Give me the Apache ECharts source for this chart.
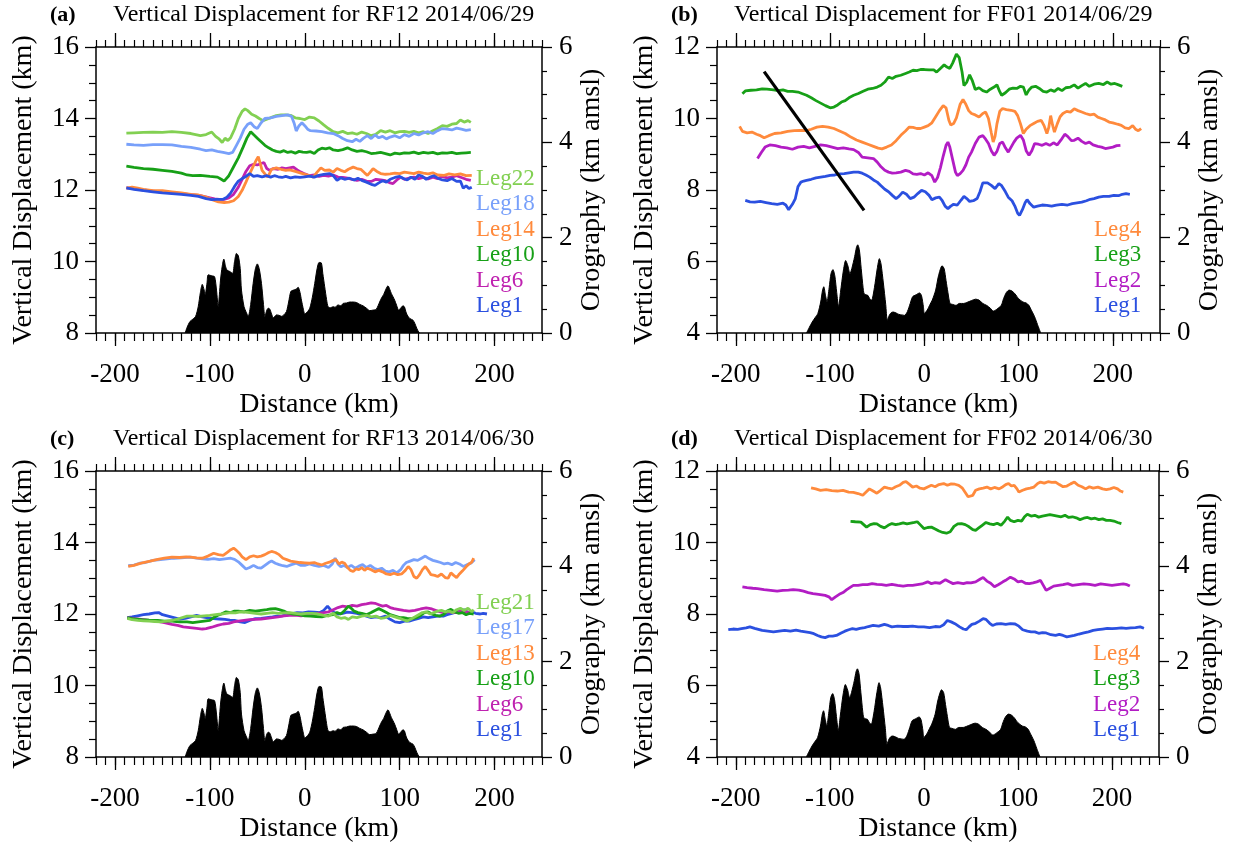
<!DOCTYPE html>
<html>
<head>
<meta charset="utf-8">
<script src="https://cdn.jsdelivr.net/npm/echarts@6/dist/echarts.min.js"></script>
<style>html,body{margin:0;padding:0;background:#fff;}#chart{width:1235px;height:847px;}</style>
</head>
<body>
<div id="chart"></div>
<script>
// ---------------- DATA ----------------
const xTickValues = [-200, -100, 0, 100, 200];
const panelTags = ['(a)', '(b)', '(c)', '(d)'];
const panelTitles = [
  'Vertical Displacement for RF12 2014/06/29',
  'Vertical Displacement for FF01 2014/06/29',
  'Vertical Displacement for RF13 2014/06/30',
  'Vertical Displacement for FF02 2014/06/30'
];
const leftAxisRanges = [[8, 16], [4, 12], [8, 16], [4, 12]];
const legendA = ['Leg22', 'Leg18', 'Leg14', 'Leg10', 'Leg6', 'Leg1'];
const legendB = ['Leg4', 'Leg3', 'Leg2', 'Leg1'];
const legendC = ['Leg21', 'Leg17', 'Leg13', 'Leg10', 'Leg6', 'Leg1'];
const legendD = ['Leg4', 'Leg3', 'Leg2', 'Leg1'];

// Orography (km amsl) vs distance (km)
const oroAC = [[-126,0],[-124,0.12],[-121,0.24],[-118,0.29],[-115,0.35],[-112.3,0.55],[-110,0.85],[-108,1.02],[-106,0.90],[-105,0.80],[-103,1.05],[-101.8,1.22],[-98,1.20],[-95,1.18],[-93,0.90],[-91.2,0.55],[-90,0.80],[-88.8,1.11],[-87,1.40],[-85.3,1.55],[-83.5,1.40],[-82,1.32],[-79,1.29],[-76,1.25],[-74,1.50],[-72,1.67],[-70,1.62],[-68,1.35],[-66.7,0.90],[-64,0.55],[-62,0.45],[-59.6,0.35],[-57,0.60],[-54.4,1.04],[-52,1.35],[-50,1.45],[-48,1.35],[-45.6,1.04],[-43.5,0.60],[-42,0.34],[-40,0.48],[-38.5,0.52],[-36.8,0.50],[-35,0.40],[-33.3,0.32],[-31,0.36],[-29.8,0.38],[-27,0.37],[-24.6,0.35],[-22,0.38],[-19.3,0.45],[-17,0.65],[-14.7,0.87],[-12,0.90],[-9,0.92],[-7,0.96],[-5,0.85],[-3.5,0.69],[-1.5,0.50],[0,0.40],[3,0.45],[5.3,0.52],[8,0.75],[10.5,1.04],[13,1.35],[15.1,1.48],[17.5,1.47],[19,1.25],[21,0.97],[23,0.70],[24.6,0.55],[27,0.53],[29.8,0.55],[32,0.54],[35,0.59],[38,0.57],[40.4,0.62],[44,0.63],[47.4,0.65],[51,0.65],[54.4,0.64],[58,0.60],[61.4,0.57],[65,0.52],[68.4,0.47],[72,0.48],[75.4,0.50],[78.9,0.65],[81,0.74],[83.2,0.81],[85.5,0.92],[87.7,0.99],[89.5,0.92],[91.2,0.83],[93,0.76],[94.7,0.69],[96.8,0.58],[98.9,0.48],[101,0.52],[103.5,0.57],[105,0.55],[107,0.42],[108.8,0.35],[111,0.30],[114,0.27],[116,0.20],[118,0.10],[120,0.02],[121,0]];
const oroBD = [[-125,0],[-122,0.12],[-119,0.23],[-116,0.32],[-113,0.41],[-110,0.65],[-108,0.90],[-106.7,0.97],[-105,0.80],[-103.3,0.65],[-101,0.95],[-99,1.25],[-97,1.33],[-95,1.20],[-93,0.85],[-91,0.55],[-89,0.85],[-86,1.30],[-83.5,1.52],[-81,1.40],[-79,1.24],[-77,1.35],[-74,1.60],[-72,1.80],[-70.7,1.85],[-69,1.75],[-67,1.35],[-65,0.95],[-64,0.83],[-62,0.80],[-60,0.79],[-58,0.72],[-56,0.69],[-53,0.95],[-50,1.35],[-47.7,1.56],[-46,1.45],[-43.5,1.05],[-41,0.60],[-39.3,0.27],[-37,0.38],[-35,0.43],[-33,0.44],[-30,0.42],[-27,0.39],[-24,0.38],[-21,0.37],[-18,0.45],[-15,0.62],[-12.5,0.76],[-9,0.80],[-5,0.84],[-3,0.78],[-1,0.55],[0,0.41],[3,0.48],[6,0.60],[8.4,0.69],[12,0.90],[15,1.20],[18.8,1.41],[21,1.35],[23,1.10],[25,0.85],[27.2,0.62],[30,0.60],[33.5,0.58],[37,0.62],[41.8,0.62],[45,0.64],[50,0.68],[54.4,0.71],[58,0.69],[62,0.62],[66,0.58],[70,0.52],[73.2,0.46],[77,0.50],[81.6,0.58],[84,0.72],[87,0.85],[90,0.90],[93,0.88],[96.2,0.82],[100,0.72],[104.6,0.65],[108,0.63],[110.9,0.58],[113,0.50],[117,0.34],[120,0.18],[123.4,0]];

// Panel (a) RF12
const a_leg22 = [[-188,13.59],[-180,13.60],[-170,13.61],[-160,13.62],[-150,13.61],[-140,13.63],[-130,13.61],[-120,13.58],[-110,13.52],[-104,13.55],[-98,13.62],[-94,13.50],[-90,13.42],[-87,13.33],[-84,13.45],[-81,13.38],[-78,13.47],[-74,13.70],[-70,14.00],[-66,14.20],[-63,14.27],[-60,14.22],[-56,14.12],[-52,14.07],[-48,14.00],[-44,13.94],[-40,13.98],[-35,14.03],[-30,14.08],[-25,14.10],[-20,14.10],[-15,14.09],[-10,14.02],[-5,14.00],[0,13.97],[5,14.04],[10,14.02],[15,13.93],[20,13.82],[25,13.72],[30,13.63],[35,13.60],[40,13.64],[45,13.58],[50,13.60],[55,13.56],[60,13.62],[65,13.58],[70,13.52],[75,13.56],[80,13.66],[85,13.62],[90,13.66],[95,13.60],[100,13.63],[105,13.64],[110,13.61],[115,13.64],[120,13.60],[125,13.63],[130,13.58],[135,13.66],[140,13.72],[145,13.80],[150,13.78],[155,13.84],[160,13.86],[164,13.96],[168,13.90],[172,13.94],[175,13.89]];
const a_leg18 = [[-188,13.28],[-180,13.26],[-170,13.25],[-160,13.27],[-150,13.27],[-140,13.26],[-130,13.22],[-120,13.19],[-110,13.14],[-104,13.10],[-98,13.12],[-92,13.08],[-86,13.05],[-80,13.02],[-76,13.05],[-72,13.25],[-68,13.45],[-64,13.70],[-60,13.84],[-57,13.88],[-53,13.76],[-50,13.72],[-46,13.88],[-42,14.00],[-36,14.02],[-30,14.06],[-24,14.08],[-18,14.10],[-14,14.06],[-11,13.85],[-9,13.65],[-6,13.80],[-3,13.88],[0,13.80],[3,13.70],[6,13.66],[12,13.65],[18,13.63],[24,13.60],[30,13.58],[35,13.52],[40,13.44],[45,13.38],[50,13.35],[54,13.42],[58,13.36],[62,13.45],[66,13.52],[70,13.44],[74,13.54],[78,13.46],[82,13.50],[86,13.43],[90,13.48],[95,13.52],[100,13.46],[105,13.55],[110,13.50],[115,13.58],[120,13.54],[125,13.60],[130,13.63],[135,13.58],[140,13.66],[145,13.72],[150,13.70],[155,13.68],[160,13.73],[165,13.70],[170,13.67],[175,13.69]];
const a_leg14 = [[-188,12.05],[-182,12.08],[-176,12.05],[-170,12.02],[-160,11.98],[-150,11.98],[-140,11.95],[-130,11.92],[-120,11.88],[-112,11.86],[-104,11.80],[-97,11.72],[-91,11.67],[-85,11.65],[-80,11.66],[-75,11.70],[-70,11.82],[-66,11.99],[-62,12.22],[-58,12.46],[-54,12.68],[-51,12.84],[-49,12.93],[-47,12.75],[-45,12.55],[-42,12.45],[-39,12.36],[-35,12.58],[-30,12.62],[-25,12.58],[-20,12.55],[-16,12.56],[-10,12.52],[-5,12.48],[0,12.44],[5,12.40],[9,12.36],[13,12.50],[17,12.62],[21,12.55],[26,12.56],[30,12.50],[34,12.60],[38,12.55],[42,12.51],[46,12.58],[51,12.64],[55,12.60],[59,12.58],[63,12.48],[66,12.41],[69,12.50],[72,12.60],[76,12.52],[80,12.46],[85,12.44],[90,12.45],[95,12.47],[100,12.46],[105,12.50],[110,12.48],[115,12.46],[120,12.50],[125,12.47],[130,12.45],[135,12.48],[140,12.42],[147,12.41],[152,12.45],[158,12.42],[164,12.45],[170,12.40],[176,12.41]];
const a_leg10 = [[-188,12.67],[-180,12.63],[-170,12.60],[-160,12.58],[-150,12.55],[-140,12.52],[-130,12.47],[-124,12.42],[-118,12.40],[-110,12.41],[-100,12.38],[-92,12.36],[-88,12.30],[-85,12.25],[-80,12.40],[-75,12.65],[-70,12.90],[-65,13.20],[-61,13.45],[-57,13.63],[-54,13.55],[-50,13.45],[-46,13.35],[-42,13.25],[-38,13.18],[-34,13.12],[-30,13.08],[-26,13.06],[-22,13.10],[-18,13.05],[-14,13.07],[-10,13.03],[-6,13.08],[-2,13.06],[2,13.05],[6,13.07],[10,13.02],[14,13.12],[18,13.17],[22,13.15],[26,13.18],[30,13.12],[35,13.10],[40,13.13],[45,13.18],[50,13.12],[55,13.08],[60,13.10],[65,13.07],[70,13.02],[75,13.03],[80,13.05],[85,13.02],[90,12.98],[95,13.03],[100,13.01],[105,13.04],[110,13.03],[115,13.06],[120,13.02],[125,13.05],[130,13.03],[135,13.05],[140,13.01],[145,13.04],[150,13.03],[155,13.05],[160,13.02],[165,13.03],[170,13.04],[175,13.05]];
const a_leg6 = [[-188,12.06],[-180,12.04],[-170,12.00],[-160,11.97],[-150,11.94],[-140,11.92],[-130,11.90],[-120,11.87],[-110,11.84],[-100,11.78],[-95,11.75],[-90,11.74],[-85,11.74],[-80,11.78],[-75,11.88],[-70,12.08],[-66,12.30],[-62,12.52],[-58,12.68],[-54,12.72],[-50,12.70],[-46,12.74],[-43,12.77],[-40,12.60],[-37,12.55],[-33,12.60],[-28,12.58],[-24,12.62],[-20,12.60],[-16,12.62],[-12,12.64],[-8,12.56],[-4,12.50],[0,12.45],[5,12.40],[10,12.42],[15,12.38],[20,12.41],[25,12.39],[30,12.42],[35,12.36],[40,12.35],[45,12.33],[50,12.30],[55,12.27],[60,12.30],[65,12.25],[70,12.24],[75,12.30],[80,12.28],[85,12.26],[90,12.20],[93,12.18],[97,12.28],[101,12.36],[105,12.30],[110,12.33],[115,12.36],[120,12.32],[125,12.35],[130,12.31],[135,12.36],[140,12.32],[145,12.38],[150,12.34],[155,12.36],[160,12.40],[165,12.35],[170,12.30],[175,12.27]];
const a_leg1 = [[-188,12.06],[-180,12.02],[-170,11.98],[-160,11.95],[-150,11.92],[-140,11.90],[-130,11.88],[-120,11.85],[-112,11.82],[-104,11.76],[-98,11.73],[-92,11.74],[-86,11.74],[-82,11.80],[-78,11.92],[-74,12.10],[-70,12.25],[-66,12.32],[-62,12.38],[-58,12.46],[-54,12.38],[-50,12.40],[-45,12.37],[-40,12.40],[-36,12.36],[-32,12.40],[-28,12.37],[-24,12.35],[-20,12.38],[-15,12.34],[-10,12.37],[-5,12.35],[0,12.37],[5,12.39],[10,12.36],[15,12.41],[20,12.44],[26,12.46],[30,12.40],[34,12.27],[38,12.34],[42,12.30],[47,12.33],[52,12.28],[56,12.33],[60,12.27],[65,12.22],[70,12.16],[74,12.13],[78,12.20],[82,12.26],[86,12.22],[90,12.30],[95,12.35],[100,12.38],[104,12.32],[108,12.28],[112,12.36],[116,12.30],[120,12.42],[124,12.38],[128,12.30],[132,12.36],[136,12.40],[140,12.33],[145,12.28],[150,12.26],[155,12.32],[160,12.24],[164,12.25],[167,12.05],[170,12.12],[173,12.04],[176,12.08]];

// Panel (b) FF01
const b_leg4 = [[-196,9.78],[-193,9.64],[-188,9.60],[-183,9.62],[-178,9.56],[-174,9.52],[-170,9.46],[-165,9.52],[-159,9.58],[-152,9.60],[-145,9.64],[-138,9.66],[-132,9.67],[-125,9.66],[-120,9.70],[-114,9.76],[-108,9.78],[-102,9.76],[-96,9.72],[-90,9.65],[-84,9.58],[-78,9.48],[-72,9.40],[-66,9.34],[-60,9.28],[-54,9.22],[-49,9.17],[-45,9.15],[-40,9.20],[-35,9.26],[-30,9.38],[-25,9.53],[-20,9.65],[-16,9.76],[-12,9.75],[-8,9.72],[-4,9.72],[0,9.76],[4,9.80],[8,9.88],[12,10.05],[16,10.22],[20,10.36],[23,10.30],[26,9.95],[28,9.82],[31,9.86],[34,10.02],[38,10.40],[41,10.53],[44,10.40],[47,10.22],[50,10.14],[54,10.10],[58,10.04],[62,10.14],[65,10.18],[68,10.00],[71,9.60],[73,9.34],[75,9.50],[77,9.85],[80,10.20],[83,10.28],[87,10.25],[92,10.23],[96,10.20],[99,10.08],[102,9.85],[105,9.58],[108,9.70],[112,9.80],[116,9.86],[120,9.92],[124,9.95],[127,9.80],[130,9.58],[132,9.75],[134,10.08],[136,9.82],[138,9.62],[141,9.85],[144,10.05],[147,10.14],[151,10.20],[155,10.18],[159,10.27],[163,10.22],[167,10.18],[171,10.14],[176,10.10],[180,10.12],[184,10.04],[188,10.00],[192,9.96],[196,9.90],[200,9.88],[205,9.84],[209,9.81],[213,9.74],[217,9.72],[221,9.80],[224,9.70],[227,9.66],[230,9.72]];
const b_leg3 = [[-193,10.69],[-190,10.77],[-184,10.79],[-178,10.80],[-172,10.83],[-167,10.82],[-160,10.80],[-155,10.78],[-150,10.80],[-145,10.76],[-140,10.76],[-134,10.74],[-130,10.70],[-125,10.65],[-120,10.58],[-115,10.50],[-110,10.43],[-105,10.36],[-100,10.30],[-96,10.32],[-92,10.38],[-88,10.46],[-84,10.50],[-80,10.58],[-75,10.65],[-70,10.70],[-65,10.76],[-60,10.82],[-55,10.84],[-50,10.88],[-46,10.93],[-42,11.02],[-38,11.16],[-34,11.12],[-30,11.18],[-25,11.21],[-20,11.26],[-16,11.30],[-12,11.35],[-8,11.34],[-4,11.37],[0,11.37],[5,11.36],[10,11.36],[13,11.30],[17,11.40],[21,11.50],[24,11.44],[27,11.40],[30,11.55],[34,11.80],[37,11.70],[40,11.30],[42,10.92],[45,11.02],[48,11.22],[51,11.05],[54,10.81],[58,10.86],[62,10.78],[66,10.74],[70,10.82],[74,10.88],[77,10.94],[80,10.75],[82,10.65],[86,10.72],[90,10.82],[94,10.85],[98,10.84],[102,10.90],[105,10.88],[108,10.66],[111,10.80],[114,10.88],[118,10.90],[122,10.84],[126,10.76],[130,10.74],[134,10.80],[138,10.76],[142,10.84],[146,10.78],[150,10.86],[155,10.88],[159,10.94],[163,10.85],[167,10.92],[171,10.98],[175,10.90],[180,10.96],[185,10.98],[190,10.95],[194,11.02],[198,10.96],[202,10.98],[206,10.94],[210,10.90]];
const b_leg2 = [[-177,8.88],[-173,9.05],[-169,9.20],[-164,9.26],[-158,9.24],[-152,9.20],[-146,9.18],[-140,9.14],[-134,9.20],[-128,9.22],[-122,9.18],[-116,9.22],[-110,9.26],[-104,9.24],[-98,9.20],[-92,9.16],[-86,9.18],[-80,9.15],[-75,9.13],[-70,9.05],[-66,8.92],[-60,8.90],[-54,8.88],[-50,8.78],[-46,8.65],[-42,8.55],[-38,8.50],[-34,8.47],[-30,8.48],[-25,8.50],[-20,8.55],[-16,8.52],[-12,8.45],[-8,8.44],[-4,8.46],[0,8.42],[4,8.48],[8,8.40],[11,8.22],[14,8.35],[17,8.62],[20,8.95],[23,9.25],[25,9.34],[27,9.20],[30,8.85],[33,8.50],[35,8.40],[38,8.46],[41,8.55],[44,8.70],[47,8.92],[50,9.06],[54,9.30],[58,9.48],[62,9.52],[65,9.42],[68,9.30],[71,9.10],[74,8.97],[77,9.08],[80,9.30],[83,9.34],[86,9.18],[89,9.06],[92,9.20],[95,9.34],[98,9.45],[102,9.53],[105,9.40],[108,9.10],[111,8.97],[114,9.10],[117,9.30],[121,9.28],[125,9.25],[129,9.30],[133,9.25],[137,9.32],[141,9.26],[145,9.40],[149,9.56],[152,9.50],[156,9.38],[159,9.39],[163,9.45],[167,9.36],[171,9.30],[175,9.34],[179,9.26],[184,9.22],[188,9.20],[192,9.16],[196,9.18],[200,9.20],[204,9.24],[208,9.25]];
const b_leg1 = [[-190,7.71],[-185,7.67],[-180,7.66],[-174,7.68],[-168,7.65],[-162,7.62],[-156,7.60],[-150,7.63],[-147,7.58],[-144,7.45],[-142,7.43],[-140,7.60],[-137,7.75],[-134,8.10],[-131,8.22],[-128,8.25],[-125,8.27],[-120,8.30],[-115,8.34],[-110,8.36],[-105,8.38],[-100,8.41],[-95,8.42],[-90,8.45],[-85,8.46],[-80,8.48],[-75,8.50],[-70,8.50],[-66,8.47],[-62,8.42],[-58,8.36],[-54,8.28],[-50,8.22],[-46,8.12],[-42,8.02],[-38,7.95],[-34,7.85],[-30,7.76],[-27,7.82],[-23,7.94],[-19,7.88],[-15,7.76],[-11,7.80],[-7,7.90],[-3,7.99],[1,7.95],[5,7.85],[8,7.73],[12,7.78],[16,7.80],[19,7.70],[22,7.55],[25,7.48],[28,7.55],[31,7.60],[35,7.58],[39,7.72],[42,7.82],[45,7.76],[48,7.68],[52,7.70],[56,7.76],[59,7.95],[62,8.20],[64,8.25],[67,8.20],[71,8.13],[75,8.04],[79,8.18],[82,8.12],[86,7.95],[89,7.80],[93,7.70],[96,7.55],[99,7.35],[101,7.29],[104,7.45],[107,7.65],[109,7.73],[112,7.62],[116,7.52],[120,7.55],[125,7.58],[130,7.57],[135,7.55],[140,7.58],[146,7.60],[152,7.58],[157,7.62],[162,7.64],[167,7.66],[172,7.70],[176,7.74],[180,7.76],[185,7.80],[190,7.82],[196,7.82],[201,7.85],[206,7.84],[210,7.88],[214,7.90],[218,7.88]];
const b_slope = [[-170,11.31],[-64,7.43]];

// Panel (c) RF13
const c_leg21 = [[-187,11.88],[-182,11.84],[-176,11.82],[-170,11.81],[-164,11.80],[-158,11.79],[-152,11.78],[-146,11.80],[-140,11.82],[-134,11.86],[-129,11.90],[-124,11.94],[-118,11.94],[-112,11.93],[-106,11.95],[-100,11.96],[-94,11.98],[-88,12.00],[-83,12.02],[-78,12.04],[-73,12.03],[-68,12.06],[-63,12.05],[-58,12.04],[-52,12.02],[-46,12.00],[-40,12.02],[-34,12.04],[-28,12.02],[-22,12.03],[-16,12.04],[-10,12.02],[-4,12.00],[2,12.02],[8,12.02],[14,12.00],[20,11.96],[25,11.94],[30,12.02],[34,11.92],[38,11.88],[42,11.90],[46,11.85],[50,11.92],[55,11.90],[60,11.94],[65,11.96],[70,11.92],[75,11.94],[80,11.88],[85,11.90],[90,11.96],[95,11.92],[100,11.88],[104,11.84],[108,11.80],[112,11.86],[116,11.92],[120,11.98],[124,12.04],[128,12.06],[132,12.00],[136,12.04],[140,12.08],[144,12.10],[148,12.06],[152,12.08],[156,12.04],[160,12.12],[164,12.16],[168,12.10],[172,12.16],[176,12.06],[178,12.12]];
const c_leg17 = [[-186,13.35],[-180,13.37],[-174,13.42],[-168,13.44],[-160,13.50],[-152,13.52],[-145,13.54],[-138,13.56],[-130,13.57],[-121,13.59],[-114,13.56],[-108,13.54],[-102,13.53],[-96,13.55],[-90,13.52],[-84,13.54],[-78,13.56],[-74,13.53],[-70,13.46],[-66,13.36],[-62,13.26],[-58,13.30],[-54,13.36],[-50,13.30],[-46,13.28],[-42,13.36],[-38,13.44],[-35,13.48],[-31,13.42],[-27,13.38],[-23,13.35],[-19,13.33],[-14,13.38],[-9,13.42],[-4,13.36],[0,13.36],[5,13.40],[10,13.36],[15,13.33],[20,13.36],[25,13.30],[29,13.40],[32,13.56],[35,13.40],[38,13.32],[41,13.36],[45,13.30],[49,13.36],[53,13.28],[57,13.34],[61,13.38],[65,13.30],[69,13.36],[73,13.28],[77,13.24],[81,13.28],[85,13.20],[89,13.18],[93,13.22],[97,13.15],[101,13.24],[104,13.36],[107,13.44],[111,13.48],[115,13.52],[119,13.50],[123,13.56],[127,13.62],[131,13.55],[135,13.50],[139,13.47],[143,13.44],[147,13.40],[151,13.42],[155,13.38],[159,13.44],[163,13.40],[167,13.33],[171,13.38],[175,13.42],[179,13.52]];
const c_leg13 = [[-186,13.33],[-180,13.36],[-175,13.40],[-170,13.44],[-163,13.48],[-155,13.53],[-148,13.56],[-140,13.59],[-132,13.58],[-125,13.60],[-120,13.59],[-114,13.57],[-108,13.56],[-102,13.62],[-96,13.70],[-91,13.66],[-86,13.64],[-82,13.72],[-78,13.80],[-75,13.84],[-72,13.78],[-69,13.70],[-66,13.60],[-62,13.52],[-58,13.60],[-54,13.63],[-50,13.60],[-46,13.62],[-42,13.66],[-38,13.72],[-35,13.75],[-31,13.72],[-27,13.66],[-23,13.56],[-19,13.52],[-15,13.48],[-10,13.46],[-5,13.44],[0,13.43],[5,13.42],[10,13.44],[14,13.40],[18,13.37],[22,13.42],[26,13.45],[30,13.50],[33,13.52],[36,13.40],[39,13.45],[42,13.42],[45,13.30],[48,13.22],[51,13.19],[54,13.26],[57,13.24],[60,13.30],[63,13.22],[66,13.28],[70,13.24],[74,13.18],[78,13.22],[82,13.18],[86,13.12],[90,13.10],[94,13.14],[98,13.10],[102,13.12],[106,13.22],[109,13.33],[112,13.24],[115,13.05],[118,13.00],[121,13.10],[124,13.24],[127,13.33],[130,13.22],[133,13.10],[137,13.08],[140,13.05],[144,13.12],[148,13.02],[151,13.00],[154,13.15],[157,13.08],[160,13.02],[163,13.12],[166,13.20],[170,13.32],[173,13.40],[176,13.45],[178,13.56]];
const c_leg10 = [[-187,11.90],[-180,11.86],[-172,11.84],[-164,11.83],[-155,11.82],[-148,11.80],[-140,11.80],[-132,11.78],[-124,11.78],[-118,11.76],[-112,11.78],[-106,11.80],[-100,11.82],[-96,11.90],[-92,11.96],[-88,12.00],[-83,12.06],[-78,12.04],[-74,12.08],[-70,12.08],[-64,12.06],[-58,12.10],[-52,12.08],[-46,12.10],[-40,12.12],[-36,12.14],[-31,12.15],[-27,12.12],[-22,12.08],[-18,12.03],[-12,12.00],[-6,11.98],[0,11.95],[6,11.94],[12,11.93],[18,11.92],[24,11.96],[30,11.98],[34,12.04],[38,12.00],[42,12.10],[46,12.22],[49,12.16],[52,12.08],[56,12.04],[60,12.02],[65,11.98],[70,12.04],[74,12.10],[78,12.15],[82,12.10],[86,12.04],[90,11.98],[95,11.94],[100,11.90],[104,11.90],[108,11.88],[113,11.87],[118,11.90],[122,11.96],[126,12.04],[130,12.06],[134,12.00],[138,11.96],[142,11.94],[146,11.98],[150,12.08],[154,12.13],[158,12.06],[162,12.02],[166,12.04],[170,11.98],[174,12.02],[178,12.00]];
const c_leg6 = [[-187,11.90],[-180,11.87],[-172,11.85],[-164,11.82],[-156,11.80],[-148,11.76],[-140,11.71],[-134,11.68],[-128,11.64],[-121,11.62],[-114,11.60],[-108,11.58],[-104,11.59],[-98,11.63],[-92,11.68],[-86,11.72],[-80,11.74],[-75,11.78],[-70,11.80],[-64,11.82],[-58,11.84],[-52,11.85],[-46,11.86],[-40,11.88],[-34,11.90],[-28,11.92],[-22,11.95],[-16,11.96],[-10,11.97],[-4,11.95],[2,11.97],[8,11.99],[14,12.02],[20,12.04],[25,12.06],[30,12.12],[35,12.18],[40,12.22],[45,12.20],[50,12.24],[55,12.22],[60,12.26],[65,12.28],[70,12.31],[74,12.30],[78,12.26],[82,12.22],[86,12.24],[90,12.18],[94,12.15],[98,12.13],[104,12.10],[110,12.08],[116,12.10],[122,12.14],[128,12.17],[134,12.14],[140,12.08],[146,12.04],[152,12.06],[158,12.04],[164,12.08],[170,12.06],[176,12.04]];
const c_leg1 = [[-187,11.90],[-182,11.92],[-176,11.95],[-170,11.98],[-164,12.00],[-158,12.03],[-154,12.04],[-150,11.98],[-144,11.94],[-138,11.90],[-132,11.86],[-126,11.88],[-120,11.92],[-114,11.96],[-108,11.92],[-102,11.89],[-96,11.87],[-90,11.86],[-84,11.85],[-79,11.83],[-74,11.82],[-68,11.78],[-63,11.76],[-58,11.82],[-52,11.87],[-46,11.88],[-40,11.90],[-34,11.92],[-29,11.94],[-24,11.95],[-18,11.98],[-12,12.02],[-8,12.04],[-2,12.03],[4,12.06],[10,12.05],[16,12.04],[20,12.10],[24,12.22],[27,12.12],[31,12.04],[35,12.00],[40,12.02],[45,12.05],[50,12.04],[55,12.02],[60,11.98],[65,11.94],[70,11.90],[75,11.92],[80,11.90],[85,11.94],[90,11.85],[95,11.78],[100,11.76],[105,11.80],[110,11.80],[115,11.84],[120,11.88],[125,11.92],[130,11.90],[135,11.92],[140,11.94],[146,11.94],[150,11.98],[155,12.02],[160,12.06],[164,12.08],[168,12.12],[172,12.04],[176,12.06],[180,12.02],[185,12.00],[188,12.02],[192,12.00]];

// Panel (d) FF02
const d_leg4 = [[-120,11.53],[-115,11.50],[-110,11.46],[-104,11.48],[-98,11.45],[-92,11.44],[-86,11.46],[-80,11.41],[-75,11.40],[-70,11.37],[-65,11.32],[-62,11.40],[-58,11.50],[-54,11.44],[-50,11.38],[-46,11.46],[-42,11.55],[-38,11.52],[-34,11.50],[-30,11.56],[-26,11.60],[-22,11.68],[-19,11.70],[-15,11.62],[-12,11.55],[-8,11.58],[-4,11.52],[0,11.50],[4,11.55],[8,11.60],[12,11.56],[16,11.62],[21,11.65],[25,11.60],[29,11.64],[33,11.63],[37,11.60],[41,11.52],[44,11.40],[47,11.28],[49,11.23],[52,11.32],[55,11.46],[59,11.50],[63,11.52],[67,11.55],[71,11.50],[75,11.54],[80,11.50],[84,11.56],[87,11.62],[90,11.65],[93,11.58],[96,11.60],[99,11.50],[101,11.41],[105,11.46],[109,11.50],[113,11.52],[117,11.55],[121,11.65],[124,11.69],[128,11.66],[132,11.70],[136,11.68],[140,11.69],[144,11.62],[148,11.56],[152,11.58],[156,11.64],[160,11.69],[164,11.60],[168,11.56],[172,11.50],[176,11.56],[180,11.52],[185,11.55],[190,11.50],[194,11.48],[198,11.50],[202,11.54],[206,11.50],[209,11.44],[212,11.41]];
const d_leg3 = [[-78,10.59],[-73,10.58],[-67,10.57],[-64,10.50],[-61,10.43],[-57,10.50],[-53,10.53],[-50,10.52],[-46,10.45],[-42,10.41],[-38,10.48],[-34,10.53],[-30,10.50],[-26,10.52],[-22,10.55],[-18,10.52],[-14,10.54],[-10,10.56],[-7,10.58],[-4,10.50],[0,10.39],[4,10.42],[8,10.43],[12,10.38],[16,10.32],[20,10.28],[24,10.26],[28,10.30],[32,10.45],[36,10.52],[40,10.53],[44,10.50],[48,10.44],[52,10.36],[55,10.34],[58,10.40],[62,10.48],[66,10.56],[70,10.52],[74,10.50],[78,10.54],[82,10.48],[86,10.60],[89,10.71],[92,10.62],[96,10.58],[100,10.62],[104,10.60],[107,10.72],[110,10.79],[114,10.74],[118,10.76],[122,10.71],[126,10.74],[130,10.76],[134,10.78],[138,10.76],[142,10.74],[146,10.72],[150,10.76],[154,10.70],[158,10.72],[162,10.69],[166,10.64],[170,10.68],[174,10.70],[178,10.66],[182,10.68],[186,10.64],[190,10.66],[194,10.62],[198,10.62],[202,10.60],[206,10.56],[210,10.53]];
const d_leg2 = [[-193,8.76],[-188,8.74],[-182,8.72],[-177,8.71],[-170,8.68],[-163,8.66],[-156,8.64],[-150,8.66],[-144,8.67],[-139,8.68],[-133,8.67],[-128,8.64],[-123,8.60],[-118,8.57],[-112,8.55],[-105,8.52],[-101,8.48],[-98,8.40],[-94,8.48],[-90,8.55],[-86,8.60],[-82,8.68],[-78,8.75],[-75,8.80],[-70,8.80],[-65,8.82],[-60,8.82],[-55,8.85],[-50,8.83],[-45,8.82],[-40,8.80],[-34,8.83],[-28,8.80],[-22,8.78],[-17,8.80],[-12,8.80],[-7,8.82],[-2,8.84],[4,8.90],[8,8.85],[12,8.88],[17,8.86],[23,8.96],[27,8.90],[31,8.85],[36,8.88],[42,8.85],[46,8.88],[50,8.87],[55,8.90],[60,8.98],[63,9.02],[67,8.92],[71,8.86],[75,8.76],[79,8.82],[84,8.90],[88,8.96],[92,9.03],[96,8.98],[100,8.90],[104,8.92],[108,8.86],[112,8.85],[116,8.87],[120,8.90],[124,8.94],[127,8.80],[130,8.66],[134,8.72],[138,8.78],[143,8.80],[148,8.82],[153,8.85],[158,8.80],[164,8.82],[170,8.84],[176,8.83],[182,8.80],[188,8.84],[194,8.82],[200,8.80],[206,8.82],[212,8.84],[216,8.82],[219,8.78]];
const d_leg1 = [[-208,7.56],[-203,7.58],[-198,7.57],[-194,7.59],[-189,7.61],[-185,7.64],[-180,7.60],[-176,7.57],[-172,7.54],[-166,7.52],[-160,7.50],[-154,7.52],[-148,7.54],[-142,7.52],[-136,7.55],[-131,7.52],[-126,7.50],[-121,7.48],[-117,7.45],[-113,7.40],[-109,7.36],[-105,7.34],[-101,7.38],[-97,7.38],[-93,7.40],[-88,7.47],[-84,7.52],[-80,7.56],[-76,7.59],[-72,7.57],[-68,7.60],[-63,7.62],[-59,7.65],[-54,7.68],[-48,7.66],[-42,7.71],[-38,7.68],[-34,7.64],[-28,7.66],[-22,7.65],[-17,7.65],[-12,7.66],[-6,7.64],[0,7.64],[6,7.62],[12,7.65],[17,7.64],[21,7.70],[25,7.82],[29,7.78],[33,7.73],[38,7.64],[42,7.58],[45,7.56],[48,7.64],[51,7.71],[55,7.74],[59,7.80],[63,7.87],[66,7.85],[70,7.74],[73,7.68],[77,7.72],[82,7.73],[87,7.71],[92,7.73],[97,7.72],[101,7.66],[105,7.56],[110,7.52],[114,7.50],[118,7.50],[122,7.46],[126,7.48],[130,7.47],[135,7.42],[140,7.40],[144,7.43],[148,7.40],[152,7.36],[156,7.38],[160,7.40],[165,7.44],[170,7.47],[175,7.50],[180,7.54],[185,7.56],[190,7.58],[195,7.60],[200,7.59],[205,7.60],[210,7.61],[215,7.60],[220,7.61],[225,7.62],[230,7.64],[234,7.60]];

// ---------------- STYLE / LAYOUT ----------------
const FONT = 'Liberation Serif';
const COL = {
  blue: '#2b50e0', magenta: '#bf22b0', purple: '#b21cc4', green: '#17a017',
  orange: '#ff8a3c', lblue: '#78a0fa', lgreen: '#82d052', black: '#000'
};
const grids = [
  {left: 96, top: 47, width: 446, height: 286},
  {left: 717, top: 47, width: 443, height: 286},
  {left: 96, top: 471, width: 446, height: 286},
  {left: 717, top: 471, width: 442, height: 286}
];
const panels = [
  {oro: oroAC, lines: [[a_leg22,'Leg22',COL.lgreen],[a_leg18,'Leg18',COL.lblue],[a_leg10,'Leg10',COL.green],[a_leg6,'Leg6',COL.magenta],[a_leg14,'Leg14',COL.orange],[a_leg1,'Leg1',COL.blue]],
   legend: legendA, legendColors: [COL.lgreen, COL.lblue, COL.orange, COL.green, COL.magenta, COL.blue]},
  {oro: oroBD, lines: [[b_leg3,'Leg3',COL.green],[b_leg4,'Leg4',COL.orange],[b_leg2,'Leg2',COL.purple],[b_leg1,'Leg1',COL.blue]],
   legend: legendB, legendColors: [COL.orange, COL.green, COL.purple, COL.blue]},
  {oro: oroAC, lines: [[c_leg17,'Leg17',COL.lblue],[c_leg13,'Leg13',COL.orange],[c_leg1,'Leg1',COL.blue],[c_leg6,'Leg6',COL.magenta],[c_leg10,'Leg10',COL.green],[c_leg21,'Leg21',COL.lgreen]],
   legend: legendC, legendColors: [COL.lgreen, COL.lblue, COL.orange, COL.green, COL.magenta, COL.blue]},
  {oro: oroBD, lines: [[d_leg4,'Leg4',COL.orange],[d_leg3,'Leg3',COL.green],[d_leg2,'Leg2',COL.purple],[d_leg1,'Leg1',COL.blue]],
   legend: legendD, legendColors: [COL.orange, COL.green, COL.purple, COL.blue]}
];

const axisLineStyle = {color: '#000', width: 1.5};
const labelStyle = {fontFamily: FONT, fontSize: 27, color: '#000'};
const nameStyle = {fontFamily: FONT, fontSize: 28, color: '#000'};

const option = {
  animation: false,
  backgroundColor: '#fff',
  textStyle: {fontFamily: FONT},
  grid: grids,
  xAxis: [], yAxis: [], series: [], graphic: []
};

panels.forEach((p, i) => {
  const g = grids[i];
  const base = option.xAxis.length;
  option.xAxis.push({
    type: 'value', gridIndex: i, position: 'bottom', min: -220, max: 250,
    name: 'Distance (km)', nameLocation: 'middle', nameGap: 58, nameTextStyle: nameStyle,
    axisLine: {show: true, lineStyle: axisLineStyle},
    axisTick: {show: true, inside: false, length: 13, customValues: xTickValues, lineStyle: {color: '#000', width: 1.3}},
    axisLabel: {show: true, customValues: xTickValues, margin: 28, ...labelStyle},
    splitLine: {show: false}
  });
  option.xAxis.push({
    type: 'value', gridIndex: i, position: 'bottom', min: -220, max: 250, interval: 10,
    axisLine: {show: false}, axisTick: {show: true, inside: false, length: 8, lineStyle: {color: '#000', width: 1.2}},
    axisLabel: {show: false}, splitLine: {show: false}
  });
  option.xAxis.push({
    type: 'value', gridIndex: i, position: 'top', min: -220, max: 250,
    axisLine: {show: true, onZero: false, lineStyle: axisLineStyle},
    axisTick: {show: true, inside: false, length: 14, customValues: xTickValues, lineStyle: {color: '#000', width: 1.3}},
    axisLabel: {show: false}, splitLine: {show: false}
  });
  option.xAxis.push({
    type: 'value', gridIndex: i, position: 'top', min: -220, max: 250, interval: 10,
    axisLine: {show: false}, axisTick: {show: true, inside: false, length: 7, lineStyle: {color: '#000', width: 1.2}},
    axisLabel: {show: false}, splitLine: {show: false}
  });
  const yBase = option.yAxis.length;
  option.yAxis.push({
    type: 'value', gridIndex: i, position: 'left', min: leftAxisRanges[i][0], max: leftAxisRanges[i][1], interval: 2,
    name: 'Vertical Displacement (km)', nameLocation: 'middle', nameRotate: 90, nameGap: 58, nameTextStyle: nameStyle,
    axisLine: {show: true, onZero: false, lineStyle: axisLineStyle},
    axisTick: {show: true, inside: false, length: 11, lineStyle: {color: '#000', width: 1.3}},
    minorTick: {show: true, splitNumber: 4, length: 7, lineStyle: {color: '#000', width: 1.2}},
    axisLabel: {show: true, margin: 17, ...labelStyle},
    splitLine: {show: false}, minorSplitLine: {show: false}
  });
  option.yAxis.push({
    type: 'value', gridIndex: i, position: 'right', min: 0, max: 6, interval: 2,
    name: 'Orography (km amsl)', nameLocation: 'middle', nameRotate: 90, nameGap: 36, nameTextStyle: nameStyle,
    axisLine: {show: true, onZero: false, lineStyle: axisLineStyle},
    axisTick: {show: true, inside: false, length: 10, lineStyle: {color: '#000', width: 1.3}},
    minorTick: {show: true, splitNumber: 4, length: 5, lineStyle: {color: '#000', width: 1.2}},
    axisLabel: {show: true, margin: 17, ...labelStyle},
    splitLine: {show: false}, minorSplitLine: {show: false}
  });
  option.series.push({
    type: 'line', xAxisIndex: base, yAxisIndex: yBase + 1, data: p.oro, symbol: 'none', smooth: 0.25,
    lineStyle: {color: '#000', width: 1}, areaStyle: {color: '#000', opacity: 1, origin: 'start'}, z: 1, silent: true
  });
  p.lines.forEach(([data, name, color]) => {
    option.series.push({
      type: 'line', name: name, xAxisIndex: base, yAxisIndex: yBase, data: data, symbol: 'none',
      lineStyle: {color: color, width: 2.8}, itemStyle: {color: color}, z: 3, silent: true
    });
  });
  if (i === 1) {
    option.series.push({
      type: 'line', xAxisIndex: base, yAxisIndex: yBase, data: b_slope, symbol: 'none',
      lineStyle: {color: '#000', width: 3.2}, z: 4, silent: true
    });
  }
  const titleY = g.top - 32;
  option.graphic.push({type: 'text', x: g.left - 46, y: titleY, style: {text: panelTags[i], font: 'bold 22px ' + FONT, fill: '#000', align: 'left', verticalAlign: 'middle'}});
  option.graphic.push({type: 'text', x: g.left + 17, y: titleY, style: {text: panelTitles[i], font: '24px ' + FONT, fill: '#000', align: 'left', verticalAlign: 'middle'}});
  const n = p.legend.length;
  const legX = g.left + g.width - 66;
  const legBottom = g.top + g.height - 27;
  p.legend.forEach((lab, k) => {
    option.graphic.push({type: 'text', x: legX, y: legBottom - (n - 1 - k) * 25.5,
      style: {text: lab, font: '23px ' + FONT, fill: p.legendColors[k], align: 'left', verticalAlign: 'middle'}, z: 10});
  });
});

const chart = echarts.init(document.getElementById('chart'), null, {renderer: 'canvas'});
chart.setOption(option);
</script>
</body>
</html>
